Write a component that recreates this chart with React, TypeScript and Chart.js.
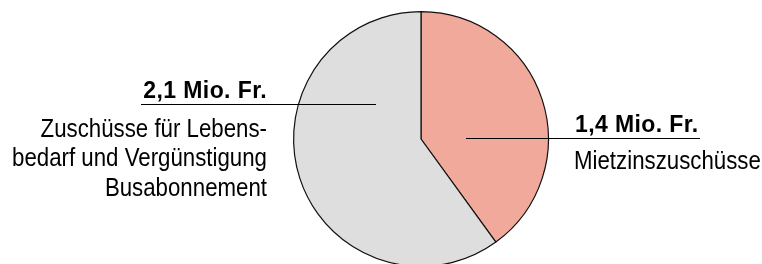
import React, { useEffect, useRef } from "react";
import { Chart, registerables } from "chart.js";

Chart.register(...registerables);

const categories = ["Mietzinszuschüsse", "Zuschüsse für Lebensbedarf und Vergünstigung Busabonnement"];
const values = [1.4, 2.1];
const valueLabels = ["1,4 Mio. Fr.", "2,1 Mio. Fr."];
const labelLines = [
  ["Mietzinszuschüsse"],
  ["Zuschüsse für Lebens-", "bedarf und Vergünstigung", "Busabonnement"],
];
const colors = ["#f1a99c", "#dedede"];

function narrowText(ctx: CanvasRenderingContext2D, text: string, x: number, y: number, sx: number) {
  ctx.save();
  ctx.translate(x, y);
  ctx.scale(sx, 1);
  ctx.fillText(text, 0, 0);
  ctx.restore();
}

const labelPlugin = {
  id: "sideLabels",
  afterDraw(chart: any) {
    const meta = chart.getDatasetMeta(0);
    const arc = meta.data[0];
    if (!arc) return;
    const cx = arc.x;
    const cy = arc.y;
    const ctx = chart.ctx as CanvasRenderingContext2D;
    ctx.save();
    ctx.strokeStyle = "#000";
    ctx.lineWidth = 1.2;
    ctx.fillStyle = "#000";
    ctx.textBaseline = "alphabetic";
    const boldFont = "bold 23px 'Liberation Sans', Arial, sans-serif";
    const regFont = "26.5px 'Liberation Sans', Arial, sans-serif";
    const sx = 0.84;

    // right label (first slice)
    ctx.beginPath();
    ctx.moveTo(cx + 45, cy - 0.5);
    ctx.lineTo(cx + 279, cy - 0.5);
    ctx.stroke();
    ctx.textAlign = "left";
    ctx.font = boldFont;
    (ctx as any).letterSpacing = "0.4px";
    ctx.fillText(valueLabels[0], cx + 154, cy - 7);
    (ctx as any).letterSpacing = "0px";
    ctx.font = regFont;
    labelLines[0].forEach((t, i) => narrowText(ctx, t, cx + 153, cy + 29.5 + i * 29.8, sx));

    // left label (second slice)
    ctx.beginPath();
    ctx.moveTo(cx - 280, cy - 34.5);
    ctx.lineTo(cx - 45, cy - 34.5);
    ctx.stroke();
    ctx.textAlign = "right";
    ctx.font = boldFont;
    (ctx as any).letterSpacing = "0.4px";
    ctx.fillText(valueLabels[1], cx - 154, cy - 41.5);
    (ctx as any).letterSpacing = "0px";
    ctx.font = regFont;
    labelLines[1].forEach((t, i) => narrowText(ctx, t, cx - 154, cy - 2.5 + i * 29.8, sx));
    ctx.restore();
  },
};

export default function App() {
  const ref = useRef<HTMLCanvasElement>(null);
  useEffect(() => {
    const chart = new Chart(ref.current!, {
      type: "pie",
      data: {
        labels: categories,
        datasets: [
          {
            data: values,
            backgroundColor: colors,
            borderColor: "#111",
            borderWidth: 1.2,
          },
        ],
      },
      options: {
        responsive: false,
        animation: false,
        layout: { padding: { left: 80, right: 0, top: 11, bottom: 11 } },
        plugins: { legend: { display: false }, tooltip: { enabled: false } },
      },
      plugins: [labelPlugin],
    });
    return () => chart.destroy();
  }, []);
  return (
    <div style={{ position: "fixed", left: 0, top: 0, width: 762, height: 278, background: "#fff" }}>
      <canvas ref={ref} width={762} height={278} />
    </div>
  );
}
